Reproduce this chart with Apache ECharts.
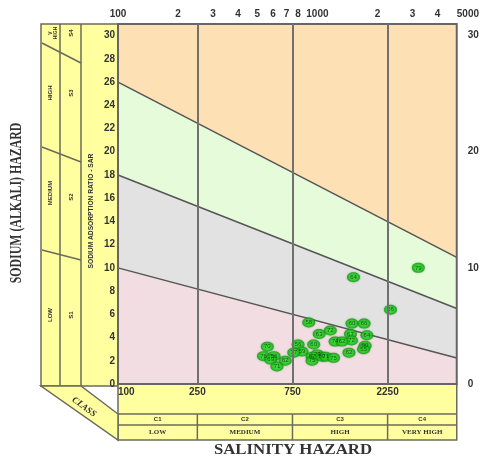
<!DOCTYPE html>
<html>
<head>
<meta charset="utf-8">
<script src="https://cdn.jsdelivr.net/npm/echarts@6/dist/echarts.min.js"></script>
<style>
  html, body { margin: 0; padding: 0; background: #fff; }
  #chart { width: 482px; height: 457px; }
</style>
</head>
<body>
<div id="chart"></div>
<script>
// samples (label, EC in micromhos/cm, SAR)
const sampleIds = ['79', '64', '66', '58', '60', '66', '63', '72', '67', '64', '72', '74', '62', '60', '56', '70',
  '90', '55', '62', '59', '77', '76', '56', '69', '62', '71', '67', '75', '73', '80', '71', '75'];
const ecValues = [3207, 1517, 2326, 905, 1491, 1715, 1021, 1161, 1465, 1771, 1483, 1227, 1329, 958, 800, 561,
  1735, 1705, 1440, 838, 762, 537, 606, 583, 690, 627, 940, 940, 998, 1054, 1100, 1205];
const sarValues = [10.0, 9.2, 6.4, 5.3, 5.2, 5.2, 4.3, 4.6, 4.3, 4.2, 3.75, 3.65, 3.65, 3.4, 3.4, 3.2,
  3.3, 3.0, 2.7, 2.8, 2.7, 2.4, 2.4, 2.1, 2.0, 1.5, 2.35, 2.0, 2.55, 2.35, 2.35, 2.25];

// diagram frame
const ecRange = [100, 5000];
const sarMax = 31;
// SAR of the class boundaries at EC = 100 and EC = 5000
const s1Bound = [10, 2.24];
const s2Bound = [18, 6.5];
const s3Bound = [26, 10.9];
const classBreaks = [250, 750, 2250];

const topTicks = [100, 200, 300, 400, 500, 600, 700, 800, 1000, 2000, 3000, 4000, 5000];
const topTickLabels = ['100', '2', '3', '4', '5', '6', '7', '8', '1000', '2', '3', '4', '5000'];
const bottomTicks = [100, 250, 750, 2250];
const sarTicks = [0, 2, 4, 6, 8, 10, 12, 14, 16, 18, 20, 22, 24, 26, 28, 30];
const sarTicksRight = [0, 10, 20, 30];

const salinityClasses = ['C1', 'C2', 'C3', 'C4'];
const salinityNames = ['LOW', 'MEDIUM', 'HIGH', 'VERY HIGH'];

const zoneColors = ['#f2dde2', '#e2e2e2', '#e6fbd9', '#fde0b4'];
const zones = [
  {lo: [0, 0], hi: s1Bound},
  {lo: s1Bound, hi: s2Bound},
  {lo: s2Bound, hi: s3Bound},
  {lo: s3Bound, hi: [sarMax, sarMax]}
];

const YELLOW = '#ffffa0';
const EDGE = '#6b6b5a';
const numFont = {fontSize: 10, fontWeight: 'bold', color: '#333', fontFamily: 'Liberation Sans'};

const chart = echarts.init(document.getElementById('chart'));

const boundLine = (b, extra) => Object.assign({
  type: 'line',
  symbol: 'none',
  z: 2,
  silent: true,
  data: [[ecRange[0], b[0]], [ecRange[1], b[1]]],
  lineStyle: {color: '#555', width: 1.5}
}, extra || {});

const tickFmt = (ticks, labels) => (v) => {
  const i = ticks.findIndex(t => Math.abs(t - v) < t * 1e-6);
  return i >= 0 ? labels[i] : '';
};

chart.setOption({
  animation: false,
  grid: {left: 118, right: 23, top: 24, bottom: 73, show: true, borderColor: '#666', borderWidth: 2, z: 5},
  xAxis: [{
    type: 'log', logBase: 10, min: ecRange[0], max: ecRange[1], position: 'bottom',
    axisLine: {show: false}, axisTick: {show: false}, splitLine: {show: false},
    axisLabel: Object.assign({customValues: bottomTicks, margin: 3, alignMinLabel: 'left',
      formatter: tickFmt(bottomTicks, bottomTicks.map(String))}, numFont)
  }, {
    type: 'log', logBase: 10, min: ecRange[0], max: ecRange[1], position: 'top',
    axisLine: {show: false}, axisTick: {show: false}, splitLine: {show: false},
    axisLabel: Object.assign({customValues: topTicks, margin: 5, alignMaxLabel: 'left',
      formatter: tickFmt(topTicks, topTickLabels)}, numFont)
  }],
  yAxis: [{
    type: 'value', min: 0, max: sarMax, position: 'left',
    axisLine: {show: false}, axisTick: {show: false}, splitLine: {show: false},
    axisLabel: Object.assign({customValues: sarTicks, margin: 3}, numFont)
  }, {
    type: 'value', min: 0, max: sarMax, position: 'right',
    axisLine: {show: false}, axisTick: {show: false}, splitLine: {show: false},
    axisLabel: Object.assign({customValues: sarTicksRight, margin: 11}, numFont)
  }],
  series: [{
    type: 'custom',
    z: 1,
    silent: true,
    clip: true,
    data: zones.map(zn => [ecRange[0], zn.lo[0]]),
    renderItem: (params, api) => {
      const zn = zones[params.dataIndex];
      return {
        type: 'polygon',
        shape: {points: [
          api.coord([ecRange[0], zn.lo[0]]),
          api.coord([ecRange[1], zn.lo[1]]),
          api.coord([ecRange[1], zn.hi[1]]),
          api.coord([ecRange[0], zn.hi[0]])
        ]},
        style: {fill: zoneColors[params.dataIndex]}
      };
    }
  },
  boundLine(s1Bound, {
    markLine: {
      silent: true, symbol: 'none', label: {show: false},
      lineStyle: {color: '#707070', width: 2, type: 'solid'},
      data: classBreaks.map(v => ({xAxis: v}))
    }
  }),
  boundLine(s2Bound),
  boundLine(s3Bound),
  {
    type: 'scatter',
    z: 3,
    symbol: 'circle',
    symbolSize: [13, 10],
    data: ecValues.map((v, i) => [v, sarValues[i]]),
    itemStyle: {
      color: new echarts.graphic.RadialGradient(0.5, 0.5, 0.5, [
        {offset: 0, color: '#3cf236'},
        {offset: 0.65, color: '#22cf20'},
        {offset: 1, color: '#118d11'}
      ]),
      shadowBlur: 2,
      shadowColor: 'rgba(20,140,20,0.7)'
    },
    label: {
      show: true, position: 'inside', fontSize: 6, color: '#123012',
      fontFamily: 'Liberation Sans',
      formatter: p => sampleIds[p.dataIndex]
    }
  }]
});

// frame panels around the plot (class tables)
const px = v => chart.convertToPixel({xAxisIndex: 0}, v);
const colEdges = [px(ecRange[0])].concat(classBreaks.map(px), [px(ecRange[1])]);
const smallText = (text, x, y, font, rot, extra) => Object.assign({
  type: 'text', x, y, rotation: rot || 0, z: 10,
  style: {text, font, fill: '#333', align: 'center', verticalAlign: 'middle'}
}, extra || {});
const seg = (x1, y1, x2, y2, w) => ({
  type: 'line', z: 8, shape: {x1, y1, x2, y2}, style: {stroke: EDGE, lineWidth: w || 1.5}
});
const R = Math.PI / 2;

const graphics = [
  {type: 'rect', z: -10, shape: {x: 41, y: 24, width: 77, height: 362}, style: {fill: YELLOW, stroke: EDGE, lineWidth: 1.5}},
  {type: 'rect', z: -10, shape: {x: 118, y: 384, width: colEdges[4] - 118, height: 56}, style: {fill: YELLOW, stroke: EDGE, lineWidth: 1.5}},
  {type: 'polygon', z: -10, shape: {points: [[41, 386], [81, 386], [118, 414], [118, 440]]}, style: {fill: YELLOW, stroke: EDGE, lineWidth: 1.5}},
  seg(60, 24, 60, 386), seg(81, 24, 81, 386),
  seg(42, 43, 81, 63), seg(42, 147, 81, 162), seg(42, 250, 81, 260),
  seg(118, 414, colEdges[4], 414), seg(118, 425, colEdges[4], 425),
  smallText('SODIUM (ALKALI) HAZARD', 17, 203, 'bold 16px "Liberation Serif"', R, {scaleX: 0.74}),
  smallText('SODIUM ADSORPTION RATIO - SAR', 91, 211, 'bold 7px "Liberation Sans"', R, {scaleX: 0.95}),
  smallText('SALINITY HAZARD', 293, 450, 'bold 14px "Liberation Serif"', 0, {scaleX: 1.2}),
  smallText('CLASS', 84, 407, 'italic bold 9px "Liberation Serif"', -0.64),
  smallText('V\nHIGH', 53, 33, 'bold 5px "Liberation Sans"', R),
  smallText('HIGH', 50, 93, 'bold 6px "Liberation Sans"', R),
  smallText('MEDIUM', 50, 193, 'bold 6px "Liberation Sans"', R),
  smallText('LOW', 50, 315, 'bold 6px "Liberation Sans"', R),
  smallText('S4', 71, 33, 'bold 6px "Liberation Sans"', R),
  smallText('S3', 71, 93, 'bold 6px "Liberation Sans"', R),
  smallText('S2', 71, 197, 'bold 6px "Liberation Sans"', R),
  smallText('S1', 71, 315, 'bold 6px "Liberation Sans"', R)
];
for (let i = 0; i < 4; i++) {
  if (i > 0) graphics.push(seg(colEdges[i], 414, colEdges[i], 440));
  const cx = (colEdges[i] + colEdges[i + 1]) / 2;
  graphics.push(smallText(salinityClasses[i], cx, 419.5, 'bold 6px "Liberation Sans"'));
  graphics.push(smallText(salinityNames[i], cx, 432.5, 'bold 7px "Liberation Serif"'));
}
chart.setOption({graphic: graphics});
</script>
</body>
</html>
